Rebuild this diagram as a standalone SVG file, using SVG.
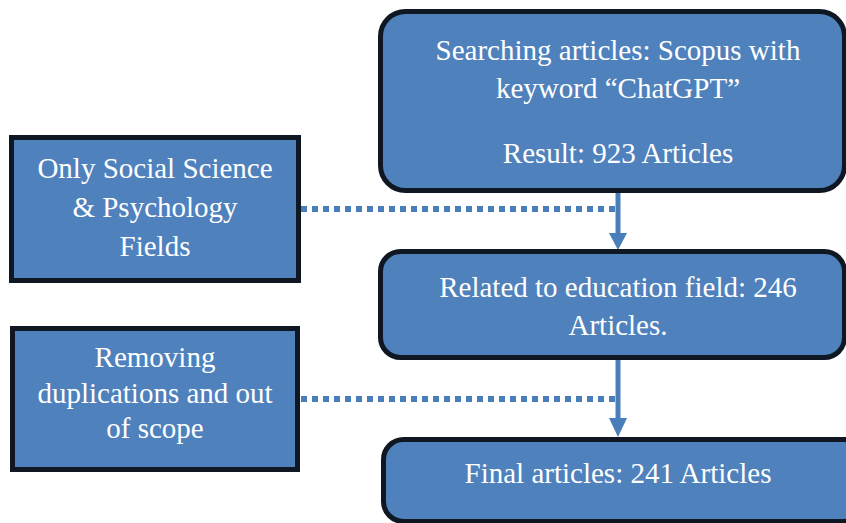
<svg xmlns="http://www.w3.org/2000/svg" width="846" height="523" viewBox="0 0 846 523">
<style>
.box{fill:#4f81bd;stroke:#0f1822;stroke-width:5}
.t{font-family:'Liberation Serif',Tinos,'Times New Roman',Times,'DejaVu Serif',serif;font-size:29px;fill:#ffffff;text-anchor:middle}
.ln{stroke:#4a7ebb;stroke-width:5;fill:none}
.dot{stroke:#4a7ebb;stroke-width:6;fill:none;stroke-dasharray:6 5}
.ah{fill:#4a7ebb}
</style>
<rect width="846" height="523" fill="#ffffff"/>
<g id="connectors">
<path class="dot" d="M301 209H616"/>
<path class="dot" d="M301 399H616"/>
<path class="ln" d="M618 193V234"/>
<polygon class="ah" points="609,233 627,233 618,250"/>
<path class="ln" d="M618 360V419"/>
<polygon class="ah" points="609,418 627,418 618,437"/>
</g>
<g id="search">
<rect class="box" x="380.5" y="11.5" width="464" height="179" rx="25"/>
<text class="t" x="618" y="60" font-family="Liberation Serif">Searching articles: Scopus with</text>
<text class="t" x="618" y="98">keyword “ChatGPT”</text>
<text class="t" x="618" y="163">Result: 923 Articles</text>
</g>
<g id="filter1">
<rect class="box" x="11.5" y="137.5" width="287" height="143"/>
<text class="t" x="155" y="178">Only Social Science</text>
<text class="t" x="155" y="217">&amp; Psychology</text>
<text class="t" x="155" y="256">Fields</text>
</g>
<g id="education">
<rect class="box" x="380.5" y="251.5" width="464" height="106" rx="20"/>
<text class="t" x="618" y="297">Related to education field: 246</text>
<text class="t" x="618" y="335">Articles.</text>
</g>
<g id="filter2">
<rect class="box" x="12.5" y="328.5" width="285" height="141"/>
<text class="t" x="155" y="367">Removing</text>
<text class="t" x="155" y="403">duplications and out</text>
<text class="t" x="155" y="438">of scope</text>
</g>
<g id="final">
<rect class="box" x="383.5" y="439.5" width="480" height="82" rx="20"/>
<text class="t" x="618" y="483">Final articles: 241 Articles</text>
</g>
</svg>
